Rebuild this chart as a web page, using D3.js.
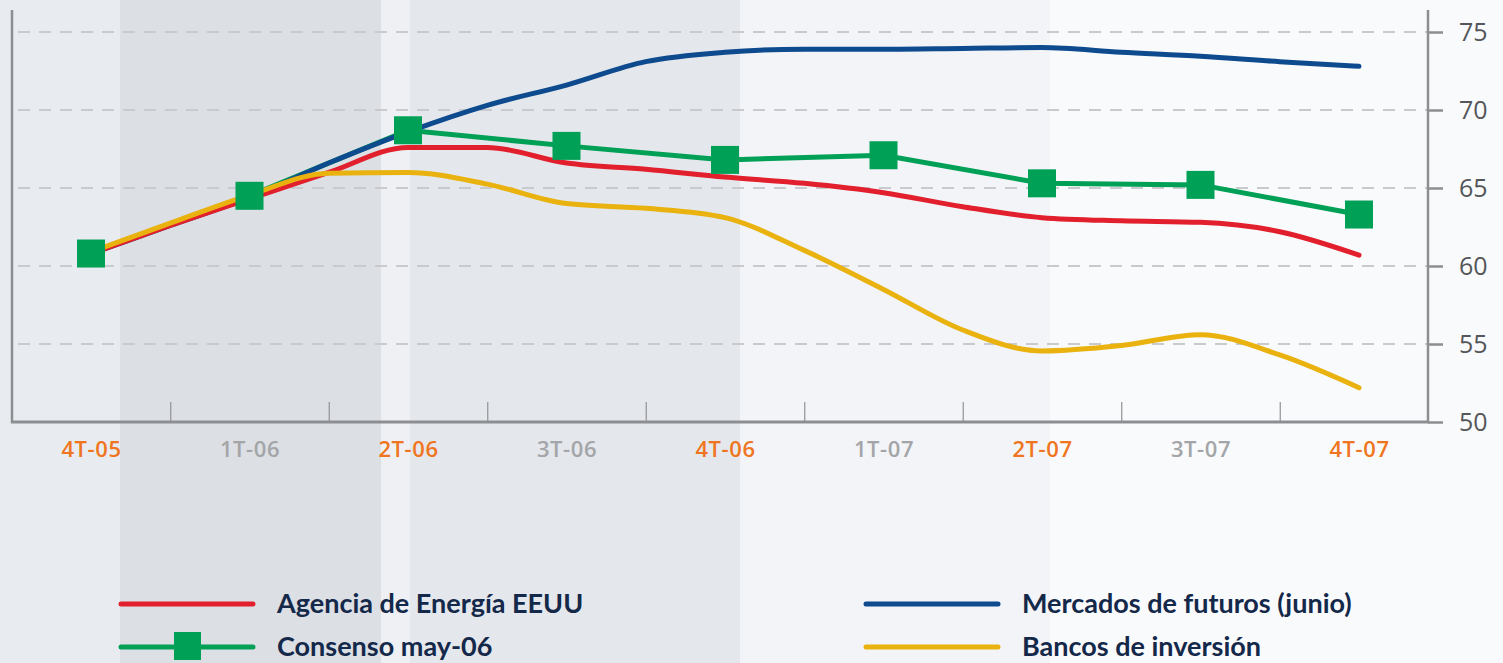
<!DOCTYPE html>
<html>
<head>
<meta charset="utf-8">
<script src="https://cdn.jsdelivr.net/npm/d3@7"></script>
<style>
  body { margin: 0; background: #f8f9fb; }
  svg { display: block; }
</style>
</head>
<body>
<div id="chart"></div>
<script>
var quarters = ["4T-05", "1T-06", "2T-06", "3T-06", "4T-06", "1T-07", "2T-07", "3T-07", "4T-07"];
var yTicks = [50, 55, 60, 65, 70, 75];

// smooth lines are read every half quarter
var steps = [0, 0.5, 1, 1.5, 2, 2.5, 3, 3.5, 4, 4.5, 5, 5.5, 6, 6.5, 7, 7.5, 8];
var agencia = [60.8, 62.6, 64.3, 66.0, 67.6, 67.6, 66.6, 66.2, 65.7, 65.3, 64.7, 63.8, 63.1, 62.9, 62.8, 62.2, 60.7];
var futuros = [60.8, 62.6, 64.4, 66.6, 68.6, 70.3, 71.6, 73.1, 73.7, 73.9, 73.9, 73.95, 74.0, 73.7, 73.45, 73.1, 72.8];
var bancos = [60.9, 62.75, 64.55, 65.95, 66.0, 65.25, 64.0, 63.7, 63.1, 61.0, 58.5, 55.9, 54.55, 54.9, 55.6, 54.3, 52.2];
// consensus only at each quarter
var consenso = [60.8, 64.5, 68.7, 67.7, 66.8, 67.1, 65.3, 65.2, 63.3];

var names = ["Agencia de Energía EEUU", "Consenso may-06", "Mercados de futuros (junio)", "Bancos de inversión"];
var colors = {red: "#e21f2c", green: "#00a057", blue: "#0d4a8e", yellow: "#e9b20e"};

var width = 1503, height = 663;

var svg = d3.select("#chart").append("svg")
  .attr("width", width)
  .attr("height", height);

// background stripes
var bands = [
  [0, 120, "#e8ebef"], [120, 381, "#dcdfe4"], [381, 410, "#eef0f3"],
  [410, 740, "#e4e7eb"], [740, 1050, "#f2f4f7"], [1050, 1503, "#f9fafc"]
];
svg.selectAll("rect.bg")
  .data(bands)
  .enter().append("rect")
  .attr("x", function(d) { return d[0]; })
  .attr("width", function(d) { return d[1] - d[0]; })
  .attr("y", 0)
  .attr("height", height)
  .attr("fill", function(d) { return d[2]; });

var x = d3.scaleLinear().domain([0, 8]).range([91, 1359]);
var y = d3.scaleLinear().domain([50, 75]).range([422, 32]);

// dashed grid
svg.append("g")
  .selectAll("line")
  .data(yTicks.filter(function(d) { return d > 50; }))
  .enter().append("line")
  .attr("x1", 18).attr("x2", 1428)
  .attr("y1", y).attr("y2", y)
  .attr("stroke", "#c8cace")
  .attr("stroke-width", 2)
  .attr("stroke-dasharray", "12 9");

// small ticks between quarters
var tickAxis = svg.append("g")
  .attr("transform", "translate(0,422)")
  .call(d3.axisBottom(x).tickValues(d3.range(0.5, 8, 1)).tickSize(-20).tickFormat(""));
tickAxis.select(".domain").remove();
tickAxis.selectAll(".tick line").attr("stroke", "#909295").attr("stroke-width", 1.2);

// quarter labels
var labelAxis = svg.append("g")
  .attr("transform", "translate(0,422)")
  .call(d3.axisBottom(x).tickValues(d3.range(0, 9)).tickSize(0).tickPadding(19)
    .tickFormat(function(i) { return quarters[i]; }));
labelAxis.select(".domain").remove();
labelAxis.selectAll(".tick text")
  .attr("font-family", "'Open Sans', sans-serif")
  .attr("font-size", 22)
  .attr("font-weight", 600)
  .attr("letter-spacing", 0.6)
  .attr("fill", function(i) { return i % 2 === 0 ? "#f07520" : "#a3a5a8"; });

// axis frame
svg.append("line").attr("x1", 12).attr("x2", 12).attr("y1", 10).attr("y2", 423)
  .attr("stroke", "#8c8e91").attr("stroke-width", 2.5);
svg.append("line").attr("x1", 1428).attr("x2", 1428).attr("y1", 10).attr("y2", 423)
  .attr("stroke", "#8c8e91").attr("stroke-width", 2.5);
svg.append("line").attr("x1", 11).attr("x2", 1429).attr("y1", 422).attr("y2", 422)
  .attr("stroke", "#8c8e91").attr("stroke-width", 3);

// right value axis
var yAxis = svg.append("g")
  .attr("transform", "translate(1428,0)")
  .call(d3.axisRight(y).tickValues(yTicks).tickSize(15).tickPadding(16));
yAxis.select(".domain").remove();
yAxis.selectAll(".tick line").attr("stroke", "#8c8e91").attr("stroke-width", 2.5);
yAxis.selectAll(".tick text")
  .attr("font-family", "'Open Sans', sans-serif")
  .attr("font-size", 25)
  .attr("fill", "#545659");

// consensus line sits under the other series, its squares on top
var straight = d3.line()
  .x(function(d, i) { return x(i); })
  .y(function(d) { return y(d); });

svg.append("path")
  .datum(consenso)
  .attr("d", straight)
  .attr("fill", "none")
  .attr("stroke", colors.green)
  .attr("stroke-width", 5);

var smooth = d3.line()
  .x(function(d, i) { return x(steps[i]); })
  .y(function(d) { return y(d); })
  .curve(d3.curveMonotoneX);

function drawLine(values, color) {
  svg.append("path")
    .datum(values)
    .attr("d", smooth)
    .attr("fill", "none")
    .attr("stroke", color)
    .attr("stroke-width", 5)
    .attr("stroke-linecap", "round")
    .attr("stroke-linejoin", "round");
}

drawLine(futuros, colors.blue);
drawLine(agencia, colors.red);
drawLine(bancos, colors.yellow);

svg.selectAll("rect.mk")
  .data(consenso)
  .enter().append("rect")
  .attr("class", "mk")
  .attr("x", function(d, i) { return x(i) - 14; })
  .attr("y", function(d) { return y(d) - 14; })
  .attr("width", 28)
  .attr("height", 28)
  .attr("fill", colors.green);

// legend
var legend = [
  {name: names[0], color: colors.red, lx: 121, ly: 604, marker: false},
  {name: names[1], color: colors.green, lx: 121, ly: 647, marker: true},
  {name: names[2], color: colors.blue, lx: 866, ly: 604, marker: false},
  {name: names[3], color: colors.yellow, lx: 866, ly: 647, marker: false}
];

var lg = svg.selectAll("g.legend")
  .data(legend)
  .enter().append("g")
  .attr("class", "legend");

lg.append("line")
  .attr("x1", function(d) { return d.lx; })
  .attr("x2", function(d) { return d.lx + 132; })
  .attr("y1", function(d) { return d.ly; })
  .attr("y2", function(d) { return d.ly; })
  .attr("stroke", function(d) { return d.color; })
  .attr("stroke-width", 5)
  .attr("stroke-linecap", "round");

lg.filter(function(d) { return d.marker; })
  .append("rect")
  .attr("x", function(d) { return d.lx + 53; })
  .attr("y", function(d) { return d.ly - 15; })
  .attr("width", 27)
  .attr("height", 28)
  .attr("fill", function(d) { return d.color; });

lg.append("text")
  .attr("x", function(d) { return d.lx + 156; })
  .attr("y", function(d) { return d.ly + 9; })
  .attr("font-family", "Lato, sans-serif")
  .attr("font-size", 27)
  .attr("font-weight", 700)
  .attr("fill", "#14284a")
  .text(function(d) { return d.name; });
</script>
</body>
</html>
